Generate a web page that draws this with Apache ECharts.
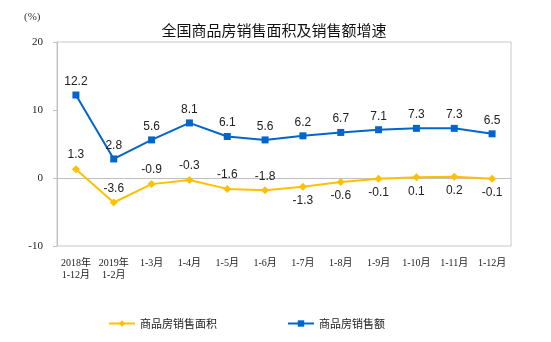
<!DOCTYPE html>
<html><head><meta charset="utf-8">
<script src="https://cdn.jsdelivr.net/npm/echarts@6/dist/echarts.min.js"></script>
<style>html,body{margin:0;padding:0;background:#fff}#c{width:551px;height:342px}</style>
</head><body><div id="c"></div>
<script>
const categories = ['2018年\n1-12月','2019年\n1-2月','1-3月','1-4月','1-5月','1-6月','1-7月','1-8月','1-9月','1-10月','1-11月','1-12月'];
const areaGrowth = [1.3, -3.6, -0.9, -0.3, -1.6, -1.8, -1.3, -0.6, -0.1, 0.1, 0.2, -0.1];
const salesGrowth = [12.2, 2.8, 5.6, 8.1, 6.1, 5.6, 6.2, 6.7, 7.1, 7.3, 7.3, 6.5];
const areaLabelPos = ['top','top','top','top','top','top','bottom','bottom','bottom','bottom','bottom','bottom'];
const yTicks = [-10, 0, 10, 20];

const chart = echarts.init(document.getElementById('c'));
const labelFont = {fontFamily:'Liberation Sans, Arial', fontSize:12, color:'#222'};
chart.setOption({
  animation:false,
  title:{text:'全国商品房销售面积及销售额增速', left:269, textAlign:'center', top:18,
    textStyle:{fontFamily:'Noto Sans CJK SC', fontSize:15, fontWeight:'normal', color:'#111'}},
  graphic:[{type:'text', left:24, top:12, style:{text:'(%)', font:'11px "Liberation Serif"', fill:'#333'}}],
  legend:{left:108, top:318, padding:0, itemWidth:26, itemHeight:8, itemGap:70,
    textStyle:{fontFamily:'Noto Sans CJK SC', fontSize:11, color:'#222'},
    data:['商品房销售面积','商品房销售额']},
  grid:{left:57, right:40, top:42, bottom:96, show:true, borderColor:'#c8c8c8', borderWidth:1,
    containLabel:false, outerBoundsMode:'none'},
  xAxis:{type:'category', data:categories, boundaryGap:true,
    axisLine:{onZero:true, lineStyle:{color:'#c0c0c0'}},
    axisTick:{inside:true, length:3, lineStyle:{color:'#c0c0c0'}},
    axisLabel:{margin:11, interval:0, fontFamily:'Liberation Serif, Noto Sans CJK SC', fontSize:10, color:'#222', lineHeight:12}},
  yAxis:{type:'value', min:yTicks[0], max:yTicks[yTicks.length-1], interval:10,
    splitLine:{show:false},
    axisLine:{show:true, lineStyle:{color:'#c0c0c0'}},
    axisTick:{show:true, length:4, lineStyle:{color:'#c0c0c0'}},
    axisLabel:{margin:14, fontFamily:'Liberation Serif', fontSize:11, color:'#222'}},
  series:[
    {name:'商品房销售面积', type:'line', data:areaGrowth.map((v,i)=>({value:v, label:{position:areaLabelPos[i]}})),
     symbol:'diamond', symbolSize:8, itemStyle:{color:'#FFC000'}, lineStyle:{color:'#FFC000', width:2},
     label:{show:true, distance:4, ...labelFont}},
    {name:'商品房销售额', type:'line', data:salesGrowth, symbol:'rect', symbolSize:7,
     itemStyle:{color:'#0066CC'}, lineStyle:{color:'#0066CC', width:2},
     label:{show:true, position:'top', distance:4, ...labelFont}}
  ]
});
</script></body></html>
